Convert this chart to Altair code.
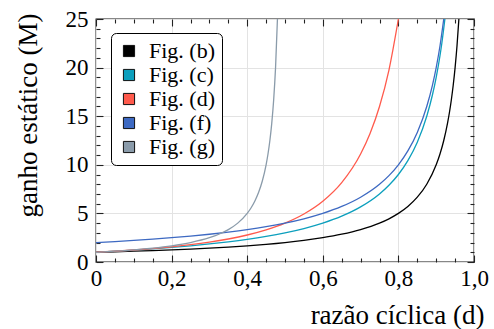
import altair as alt
import pandas as pd

# Static gain M versus duty cycle d for each converter figure
series = ["Fig. (b)", "Fig. (c)", "Fig. (d)", "Fig. (f)", "Fig. (g)"]
colors = ["#000000", "#0C9FBD", "#FF5A4C", "#3D69C2", "#8A9BAA"]

d_b = [0, 0.05, 0.1, 0.15, 0.2, 0.25, 0.3, 0.35, 0.4, 0.45, 0.5, 0.55, 0.6, 0.65, 0.7,
       0.75, 0.775, 0.8, 0.825, 0.85, 0.875, 0.9, 0.91, 0.92, 0.93, 0.935, 0.94, 0.945,
       0.95, 0.955, 0.96]
m_b = [1.0, 1.053, 1.111, 1.176, 1.25, 1.333, 1.429, 1.538, 1.667, 1.818, 2.0, 2.222, 2.5,
       2.857, 3.333, 4.0, 4.444, 5.0, 5.714, 6.667, 8.0, 10.0, 11.11, 12.5, 14.29, 15.38,
       16.67, 18.18, 20.0, 22.22, 25.0]

d_c = [0, 0.05, 0.1, 0.15, 0.2, 0.25, 0.3, 0.35, 0.4, 0.45, 0.5, 0.55, 0.6, 0.65, 0.7,
       0.75, 0.775, 0.8, 0.825, 0.85, 0.875, 0.89, 0.9, 0.91, 0.915, 0.923]
m_c = [1.0, 1.105, 1.222, 1.353, 1.5, 1.667, 1.857, 2.077, 2.333, 2.636, 3.0, 3.444, 4.0,
       4.714, 5.667, 7.0, 7.889, 9.0, 10.43, 12.33, 15.0, 17.18, 19.0, 21.22, 22.53, 25.0]

d_d = [0, 0.05, 0.1, 0.15, 0.2, 0.25, 0.3, 0.35, 0.4, 0.45, 0.5, 0.55, 0.6, 0.65, 0.7,
       0.725, 0.75, 0.775, 0.8]
m_d = [1.0, 1.108, 1.235, 1.384, 1.563, 1.778, 2.041, 2.367, 2.778, 3.306, 4.0, 4.938,
       6.25, 8.163, 11.11, 13.22, 16.0, 19.75, 25.0]

d_f = [0, 0.05, 0.1, 0.15, 0.2, 0.25, 0.3, 0.35, 0.4, 0.45, 0.5, 0.55, 0.6, 0.65, 0.7,
       0.75, 0.775, 0.8, 0.825, 0.85, 0.875, 0.89, 0.9, 0.91, 0.92]
m_f = [2.0, 2.105, 2.222, 2.353, 2.5, 2.667, 2.857, 3.077, 3.333, 3.636, 4.0, 4.444, 5.0,
       5.714, 6.667, 8.0, 8.889, 10.0, 11.43, 13.33, 16.0, 18.18, 20.0, 22.22, 25.0]

d_g = [0, 0.05, 0.1, 0.15, 0.2, 0.25, 0.3, 0.325, 0.35, 0.375, 0.4, 0.41, 0.42, 0.43,
       0.44, 0.45, 0.455, 0.46, 0.465, 0.47, 0.475, 0.48]
m_g = [1.0, 1.111, 1.25, 1.429, 1.667, 2.0, 2.5, 2.857, 3.333, 4.0, 5.0, 5.556, 6.25,
       7.143, 8.333, 10.0, 11.11, 12.5, 14.29, 16.67, 20.0, 25.0]

x_major = [0, 0.2, 0.4, 0.6, 0.8, 1.0]
x_minor = [0.05, 0.1, 0.15, 0.25, 0.3, 0.35, 0.45, 0.5, 0.55, 0.65, 0.7, 0.75, 0.85, 0.9, 0.95]
y_major = [0, 5, 10, 15, 20, 25]
y_minor = [1, 2, 3, 4, 6, 7, 8, 9, 11, 12, 13, 14, 16, 17, 18, 19, 21, 22, 23, 24]

frames = []
for name, ds, ms in zip(series, [d_b, d_c, d_d, d_f, d_g], [m_b, m_c, m_d, m_f, m_g]):
    frames.append(pd.DataFrame({"d": ds, "M": ms, "serie": name}))
df = pd.concat(frames, ignore_index=True)

FONT = "Liberation Serif"
LABEL_FS = 23
TITLE_FS = 27
LEGEND_FS = 22
TICK = "#222222"
xs = alt.Scale(domain=[0, 1], nice=False, zero=False)
ys = alt.Scale(domain=[0, 25], nice=False, zero=False)
cs = alt.Scale(domain=series, range=colors)

x_label_expr = "datum.value == 0 ? '0' : replace(format(datum.value, '.1f'), '.', ',')"
txt = dict(labelFont=FONT, labelFontSize=LABEL_FS, labelColor="#000000",
           titleFont=FONT, titleFontSize=TITLE_FS, titleFontWeight="normal",
           titleColor="#000000")


def axis_layer(xaxis, yaxis):
    return alt.Chart(df).mark_point(opacity=0).encode(
        x=alt.X("d:Q", scale=xs, axis=xaxis),
        y=alt.Y("M:Q", scale=ys, axis=yaxis),
    )


# grid lines and axis titles
grid_layer = axis_layer(
    alt.Axis(orient="bottom", values=x_major, grid=True, gridColor="#e3e3e3", gridWidth=1,
             domain=False, labels=False, ticks=False, title="razão cíclica (d)",
             titleX=388, titleY=61, titleAlign="right", titleBaseline="alphabetic", **txt),
    alt.Axis(orient="left", values=y_major, grid=True, gridColor="#e3e3e3", gridWidth=1,
             domain=False, labels=False, ticks=False, title="ganho estático (M)",
             titleX=-60, titleY=-6, titleAngle=270, titleAlign="right",
             titleBaseline="alphabetic", **txt),
)

# major ticks pointing inward, with labels
major_bl = axis_layer(
    alt.Axis(orient="bottom", values=x_major, offset=-7, tickSize=7, ticks=True,
             domain=False, grid=False, title=None, labelExpr=x_label_expr,
             labelPadding=5, labelFlush=False, **txt),
    alt.Axis(orient="left", values=y_major, offset=-7, tickSize=7, ticks=True,
             domain=False, grid=False, title=None, format="d",
             labelPadding=8, labelFlush=False, **txt),
)
major_tr = axis_layer(
    alt.Axis(orient="top", values=x_major, offset=-7, tickSize=7, ticks=True,
             domain=False, grid=False, labels=False, title=None),
    alt.Axis(orient="right", values=y_major, offset=-7, tickSize=7, ticks=True,
             domain=False, grid=False, labels=False, title=None),
)
# minor ticks
minor_bl = axis_layer(
    alt.Axis(orient="bottom", values=x_minor, offset=-4, tickSize=4, ticks=True,
             domain=False, grid=False, labels=False, title=None),
    alt.Axis(orient="left", values=y_minor, offset=-4, tickSize=4, ticks=True,
             domain=False, grid=False, labels=False, title=None),
)
minor_tr = axis_layer(
    alt.Axis(orient="top", values=x_minor, offset=-4, tickSize=4, ticks=True,
             domain=False, grid=False, labels=False, title=None),
    alt.Axis(orient="right", values=y_minor, offset=-4, tickSize=4, ticks=True,
             domain=False, grid=False, labels=False, title=None),
)

lines = alt.Chart(df).mark_line(strokeWidth=1.3, clip=True, interpolate="monotone").encode(
    x=alt.X("d:Q", scale=xs, axis=None),
    y=alt.Y("M:Q", scale=ys, axis=None),
    color=alt.Color("serie:N", scale=cs, legend=None),
    order=alt.Order("d:Q"),
)

# invisible filled squares that carry the legend
legend_layer = alt.Chart(df).mark_square(filled=True, opacity=0).encode(
    x=alt.X("d:Q", scale=xs, axis=None),
    y=alt.Y("M:Q", scale=ys, axis=None),
    color=alt.Color(
        "serie:N", scale=cs,
        legend=alt.Legend(
            title=None, orient="none", legendX=15, legendY=14,
            symbolType="square", symbolSize=125, symbolStrokeWidth=1,
            symbolStrokeColor="#111111", symbolOpacity=1,
            labelOffset=9, rowPadding=2, padding=7, cornerRadius=5,
            strokeColor="#000000", fillColor="#ffffff",
        ),
    ),
)

chart = alt.layer(
    grid_layer, minor_bl, minor_tr, major_bl, major_tr, lines, legend_layer
).resolve_axis(
    x="independent", y="independent"
).resolve_legend(
    color="independent"
).properties(
    width=378, height=243,
    autosize=alt.AutoSizeParams(type="none"),
    padding={"left": 96, "top": 19, "right": 20, "bottom": 67},
).configure(
    background="white", font=FONT,
).configure_axis(
    labelFont=FONT, titleFont=FONT, tickColor=TICK, tickWidth=1.1,
).configure_legend(
    labelFont=FONT, labelFontSize=LEGEND_FS, labelColor="#000000",
).configure_view(
    stroke="#111111", strokeWidth=1.3
)

chart.save("out.html", embed_options={"renderer": "svg", "actions": False})
